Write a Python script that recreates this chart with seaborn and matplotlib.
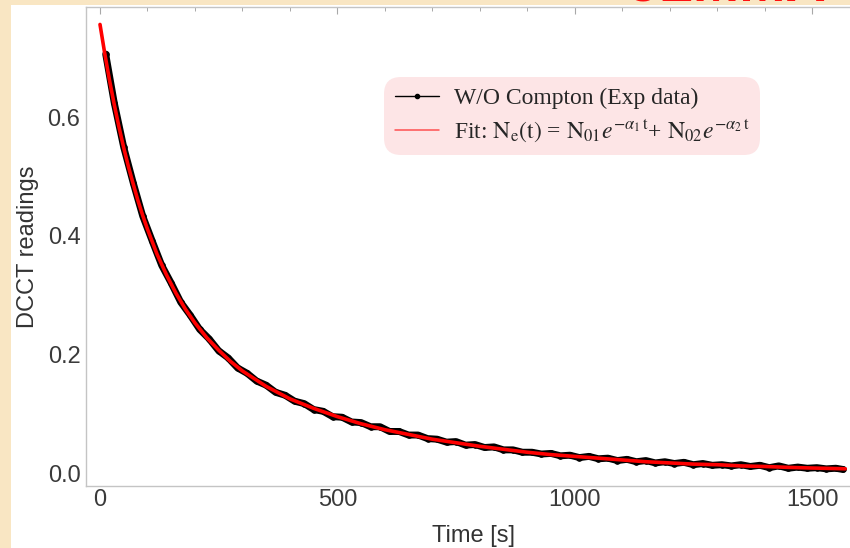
import matplotlib
matplotlib.use("Agg")
import matplotlib.pyplot as plt
import seaborn as sns
import pandas as pd
from matplotlib.lines import Line2D
from matplotlib.patches import Rectangle
from matplotlib.ticker import MultipleLocator

# Measured DCCT readings (experimental data, without Compton)
data_t = [12, 30, 50, 70, 90, 110, 130, 150, 170, 190, 210, 230, 250, 270, 290,
          310, 330, 350, 370, 390, 410, 430, 450, 470, 490, 510, 530, 550, 570,
          590, 610, 630, 650, 670, 690, 710, 730, 750, 770, 790, 810, 830, 850,
          870, 890, 910, 930, 950, 970, 990, 1010, 1030, 1050, 1070, 1090, 1110,
          1130, 1150, 1170, 1190, 1210, 1230, 1250, 1270, 1290, 1310, 1330, 1350,
          1370, 1390, 1410, 1430, 1450, 1470, 1490, 1510, 1530, 1550, 1565]
data_v = [0.706, 0.624, 0.549, 0.489, 0.433, 0.391, 0.350, 0.320, 0.288, 0.266,
          0.242, 0.226, 0.206, 0.194, 0.177, 0.168, 0.155, 0.148, 0.136, 0.131,
          0.121, 0.117, 0.107, 0.104, 0.095, 0.094, 0.086, 0.085, 0.078, 0.078,
          0.070, 0.070, 0.064, 0.064, 0.058, 0.057, 0.052, 0.053, 0.047, 0.048,
          0.043, 0.044, 0.039, 0.039, 0.035, 0.035, 0.032, 0.033, 0.029, 0.030,
          0.026, 0.028, 0.024, 0.025, 0.021, 0.023, 0.019, 0.021, 0.017, 0.019,
          0.016, 0.018, 0.014, 0.016, 0.013, 0.014, 0.012, 0.014, 0.011, 0.013,
          0.009, 0.012, 0.008, 0.010, 0.008, 0.009, 0.007, 0.008, 0.006]

# Double-exponential fit curve
fit_t = [0, 10, 20, 30, 40, 50, 60, 70, 80, 90, 100, 120, 140, 160, 180, 200,
         225, 250, 275, 300, 350, 400, 450, 500, 550, 600, 650, 700, 750, 800,
         850, 900, 950, 1000, 1050, 1100, 1150, 1200, 1250, 1300, 1350, 1400,
         1450, 1500, 1550, 1570]
fit_v = [0.756, 0.707, 0.662, 0.621, 0.583, 0.548, 0.516, 0.487, 0.459, 0.434,
         0.411, 0.369, 0.334, 0.303, 0.276, 0.253, 0.228, 0.207, 0.188, 0.172,
         0.146, 0.125, 0.109, 0.095, 0.083, 0.073, 0.065, 0.057, 0.051, 0.045,
         0.040, 0.035, 0.031, 0.028, 0.025, 0.022, 0.019, 0.017, 0.015, 0.014,
         0.012, 0.011, 0.0095, 0.0084, 0.0075, 0.0071]

legend_labels = [
    "W/O Compton (Exp data)",
    r"Fit: $\mathrm{N_e(t)}$ = $\mathrm{N_{01}}\mathit{e}^{-\alpha_1\,\mathrm{t}}$+ "
    r"$\mathrm{N_{02}}\mathit{e}^{-\alpha_2\,\mathrm{t}}$",
]

sns.set_theme(style="white")
plt.rcParams["font.family"] = ["Liberation Sans", "DejaVu Sans"]
plt.rcParams["mathtext.fontset"] = "stix"

W, H = 850, 548
fig = plt.figure(figsize=(W / 100, H / 100), dpi=100, facecolor="#f9e6c3")

# white plotting panel behind the axes
fig.patches.append(Rectangle((11 / W, 0), 1 - 11 / W, 1 - 5 / H,
                             transform=fig.transFigure, facecolor="white",
                             edgecolor="none", zorder=-5))

# slide title peeking in at the top edge
fig.text(628 / W, 1 - 0.5 / H, "JLMMA", color="#ff1010", fontsize=40,
         fontweight="bold", ha="left", va="baseline", zorder=-4)

# axes run slightly past the right edge of the figure
x_right_px = 862
ax = fig.add_axes([86 / W, (H - 486) / H, (x_right_px - 86) / W, 479 / H])
ax.set_facecolor("white")

df_data = pd.DataFrame({"t": data_t, "v": data_v})
df_fit = pd.DataFrame({"t": fit_t, "v": fit_v})

sns.lineplot(data=df_data, x="t", y="v", ax=ax, color="black", lw=5.0,
             marker="o", ms=4, mec="black", estimator=None, sort=False,
             solid_capstyle="round", zorder=2)
sns.lineplot(data=df_fit, x="t", y="v", ax=ax, color="#ff0000", lw=2.6,
             estimator=None, sort=False, zorder=3)

ax.set_xlim(-29.5, (x_right_px - 100) / 0.4747)
ax.set_ylim(-0.0219, 0.7854)
ax.xaxis.set_major_locator(MultipleLocator(500))
ax.xaxis.set_minor_locator(MultipleLocator(100))
ax.yaxis.set_major_locator(MultipleLocator(0.2))
ax.yaxis.set_minor_locator(MultipleLocator(0.05))

ax.tick_params(which="both", direction="in", top=True, right=False,
               colors="#a8a8a8", labelcolor="#3a3a3a", labelsize=17)
ax.tick_params(which="major", length=5, width=0.8)
ax.tick_params(which="minor", length=3, width=0.7)
ax.tick_params(axis="x", which="major", pad=2.5)
ax.tick_params(axis="y", which="major", pad=4)

for s in ax.spines.values():
    s.set_color("#c4c4c4")
    s.set_linewidth(1.0)

ax.set_xlabel("Time [s]", fontsize=17, color="#333333", labelpad=10)
ax.set_ylabel("DCCT readings", fontsize=17, color="#333333", labelpad=6)

handles = [Line2D([], [], color="black", lw=1.0, marker="o", ms=3),
           Line2D([], [], color="#ff5050", lw=1.1)]
leg = ax.legend(handles, legend_labels, loc="upper left",
                bbox_to_anchor=((384 - 86) / (x_right_px - 86), (486 - 77) / 479),
                bbox_transform=ax.transAxes, borderaxespad=0, frameon=True,
                fancybox=True, facecolor="#fde5e6", edgecolor="none",
                framealpha=1, prop={"family": ["Liberation Serif"], "size": 17},
                handlelength=1.9, handletextpad=0.6, borderpad=0.45,
                labelspacing=0.35, numpoints=1)
leg.get_frame().set_boxstyle("round", pad=0, rounding_size=0.7)

fig.savefig("out.png", dpi=100, facecolor=fig.get_facecolor())
